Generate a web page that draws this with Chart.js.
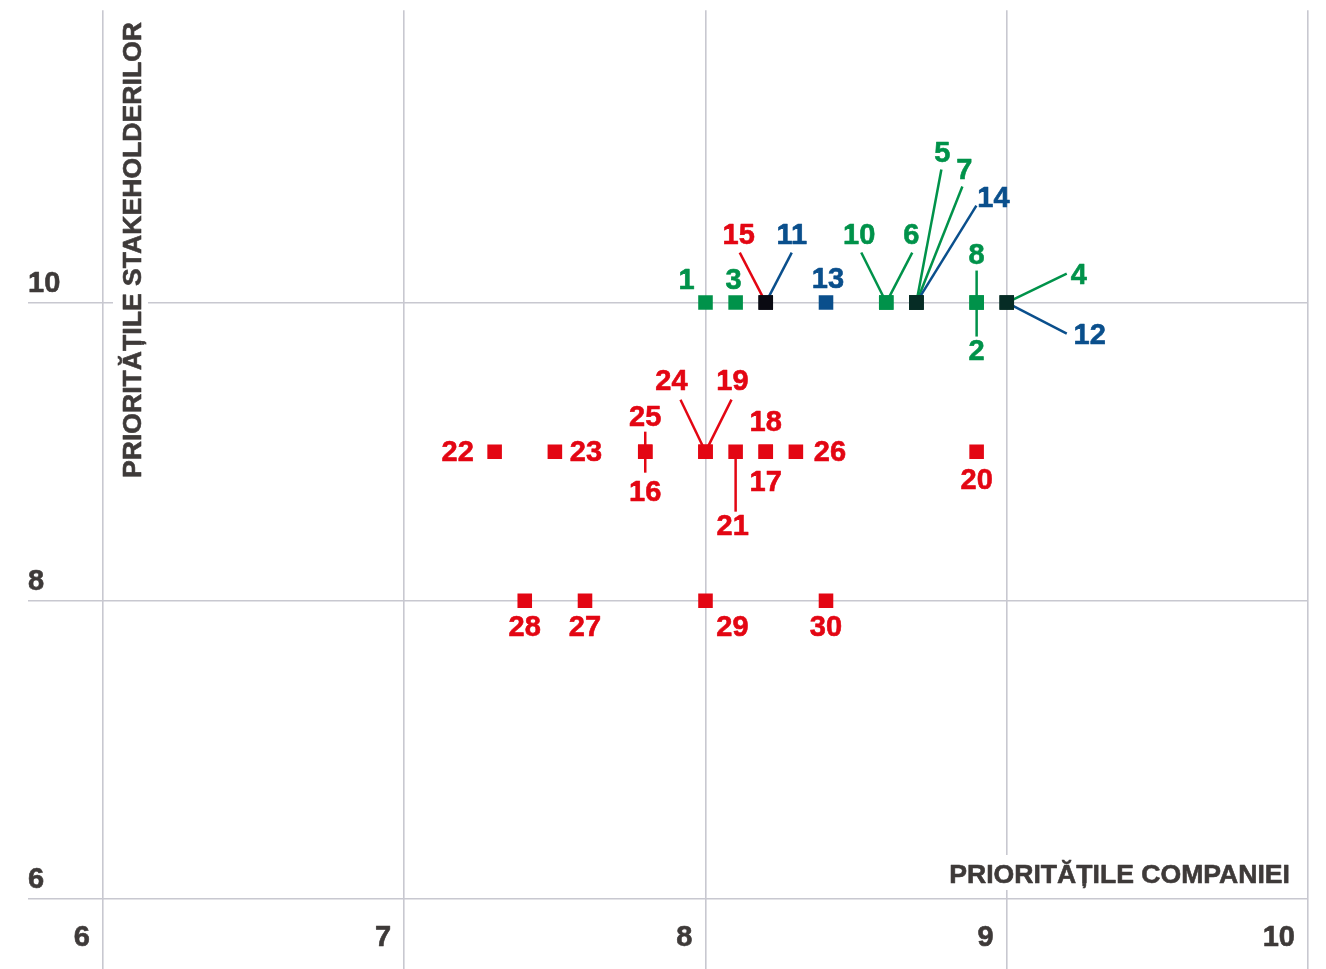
<!DOCTYPE html>
<html>
<head>
<meta charset="utf-8">
<script src="https://cdn.jsdelivr.net/npm/chart.js@4/dist/chart.umd.min.js"></script>
<style>
html, body { margin: 0; padding: 0; background: #fff; }
#wrap { width: 1326px; height: 969px; }
</style>
</head>
<body>
<div id="wrap"><canvas id="matrice"></canvas></div>
<script>
// date
const topicIds = [1, 2, 3, 4, 5, 6, 7, 8, 10, 11, 12, 13, 14, 15, 16, 17, 18, 19, 20, 21, 22, 23, 24, 25, 26, 27, 28, 29, 30];
const companyPriority = [8.0, 8.9, 8.1, 9.0, 8.7, 8.6, 8.7, 8.9, 8.6, 8.2, 9.0, 8.4, 8.7, 8.2, 7.8, 8.2, 8.2, 8.0, 8.9, 8.1, 7.3, 7.5, 8.0, 7.8, 8.3, 7.6, 7.4, 8.0, 8.4];
const stakeholderPriority = [10, 10, 10, 10, 10, 10, 10, 10, 10, 10, 10, 10, 10, 10, 9, 9, 9, 9, 9, 9, 9, 9, 9, 9, 9, 8, 8, 8, 8];
const topicGroup = ["verde", "verde", "verde", "verde", "verde", "verde", "verde", "verde", "verde",
    "albastru", "albastru", "albastru", "albastru",
    "rosu", "rosu", "rosu", "rosu", "rosu", "rosu", "rosu", "rosu", "rosu", "rosu", "rosu", "rosu", "rosu", "rosu", "rosu", "rosu"];
const xTicks = [6, 7, 8, 9, 10];
const yTicks = [6, 8, 10];
const xTitle = "PRIORITĂȚILE COMPANIEI";
const yTitle = "PRIORITĂȚILE STAKEHOLDERILOR";

// stil
const groupColors = { verde: "#00924a", albastru: "#0a4f8c", rosu: "#e30613" };
const textColor = "#3e3a39";
const gridColor = "#c8c8d0";
const font = '"Liberation Sans", Arial, sans-serif';

// pozitia etichetelor fata de punct (px)
const labelOffsets = {
    1: [-19, -23], 2: [0, 48], 3: [-2, -23], 4: [72, -28], 5: [26, -150], 6: [25, -68],
    7: [48, -133], 8: [0, -48], 10: [-27, -68], 11: [26, -68], 12: [83, 32], 13: [2, -24],
    14: [77, -105], 15: [-27, -68], 16: [0, 40], 17: [0, 30], 18: [0, -30], 19: [27, -71],
    20: [0, 28], 21: [-3, 74], 22: [-37, 0], 23: [31, 0], 24: [-34, -71], 25: [0, -35],
    26: [34, 0], 27: [0, 26], 28: [0, 26], 29: [27, 26], 30: [0, 26]
};
// capatul liniilor de legatura
const leaderLines = {
    15: [-26, -50], 11: [26, -50], 10: [-25, -50], 6: [26, -50],
    5: [25, -133], 7: [46, -116], 14: [60, -97], 8: [0, -32], 2: [0, 34],
    4: [60, -29], 12: [60, 31], 25: [0, -20], 16: [0, 21],
    24: [-25, -52], 19: [26, -52], 21: [0, 60]
};

function culoarePunct(i) {
    const grupe = new Set();
    for (let j = 0; j < topicIds.length; j++) {
        if (companyPriority[j] === companyPriority[i] && stakeholderPriority[j] === stakeholderPriority[i]) {
            grupe.add(topicGroup[j]);
        }
    }
    if (grupe.size === 1) return groupColors[topicGroup[i]];
    return grupe.has("rosu") ? "#0a0a12" : "#062c25";
}

const puncte = topicIds.map((id, i) => ({ x: companyPriority[i], y: stakeholderPriority[i] }));
const culori = topicIds.map((id, i) => culoarePunct(i));

// text putin mai gros, ca in original
function scrie(c, txt, x, y) {
    c.fillText(txt, x, y);
    c.strokeText(txt, x, y);
}

const desen = {
    id: "desen",
    beforeDatasetsDraw(chart) {
        const c = chart.ctx;
        const sx = chart.scales.x, sy = chart.scales.y;
        c.save();
        c.lineWidth = 0.6;
        c.lineJoin = "round";

        // etichete axe
        c.fillStyle = textColor;
        c.strokeStyle = textColor;
        c.font = "bold 29px " + font;
        c.textBaseline = "alphabetic";
        c.textAlign = "left";
        yTicks.forEach(v => scrie(c, String(v), 28, sy.getPixelForValue(v) - 11));
        c.textAlign = "right";
        xTicks.forEach(v => scrie(c, String(v), sx.getPixelForValue(v) - 13, 946));

        // titluri
        c.font = "bold 26.6px " + font;
        const wX = c.measureText(xTitle).width;
        c.fillStyle = "#fff";
        c.fillRect(1290 - wX - 6, 855, wX + 12, 35);
        c.fillStyle = textColor;
        c.textAlign = "right";
        scrie(c, xTitle, 1290, 883);

        const wY = c.measureText(yTitle).width;
        c.save();
        c.translate(141, 478);
        c.rotate(-Math.PI / 2);
        c.fillStyle = "#fff";
        c.fillRect(-4, -28, wY + 8, 35);
        c.fillStyle = textColor;
        c.textAlign = "left";
        scrie(c, yTitle, 0, 0);
        c.restore();

        // linii de legatura
        c.lineWidth = 2.5;
        topicIds.forEach((id, i) => {
            const l = leaderLines[id];
            if (!l) return;
            const px = sx.getPixelForValue(companyPriority[i]);
            const py = sy.getPixelForValue(stakeholderPriority[i]);
            c.strokeStyle = groupColors[topicGroup[i]];
            c.beginPath();
            c.moveTo(px + l[0], py + l[1]);
            c.lineTo(px, py);
            c.stroke();
        });
        c.restore();
    },
    afterDatasetsDraw(chart) {
        const c = chart.ctx;
        const sx = chart.scales.x, sy = chart.scales.y;
        c.save();
        c.font = "bold 29px " + font;
        c.textAlign = "center";
        c.textBaseline = "middle";
        c.lineWidth = 0.6;
        c.lineJoin = "round";
        topicIds.forEach((id, i) => {
            const o = labelOffsets[id] || [0, -26];
            const px = sx.getPixelForValue(companyPriority[i]);
            const py = sy.getPixelForValue(stakeholderPriority[i]);
            c.fillStyle = groupColors[topicGroup[i]];
            c.strokeStyle = groupColors[topicGroup[i]];
            scrie(c, String(id), px + o[0], py + o[1] + 1);
        });
        c.restore();
    }
};

new Chart(document.getElementById("matrice"), {
    type: "scatter",
    data: {
        datasets: [{
            data: puncte,
            pointStyle: "rect",
            pointRadius: 10.3,
            pointHoverRadius: 10.3,
            pointBorderWidth: 0,
            pointBackgroundColor: culori
        }]
    },
    options: {
        responsive: true,
        maintainAspectRatio: false,
        animation: false,
        events: [],
        layout: { padding: { left: 28, right: 18, top: 10, bottom: 0 } },
        plugins: { legend: { display: false }, tooltip: { enabled: false } },
        scales: {
            x: {
                type: "linear",
                min: 6,
                max: 10,
                afterBuildTicks: s => { s.ticks = xTicks.map(v => ({ value: v })); },
                ticks: { display: false },
                grid: { color: gridColor, lineWidth: 1.6, tickLength: 70, drawTicks: true },
                border: { display: false }
            },
            y: {
                type: "linear",
                min: 6,
                max: 11.96,
                afterBuildTicks: s => { s.ticks = yTicks.map(v => ({ value: v })); },
                ticks: { display: false },
                grid: { color: gridColor, lineWidth: 1.6, tickLength: 75, drawTicks: true },
                border: { display: false }
            }
        }
    },
    plugins: [desen]
});
</script>
</body>
</html>
